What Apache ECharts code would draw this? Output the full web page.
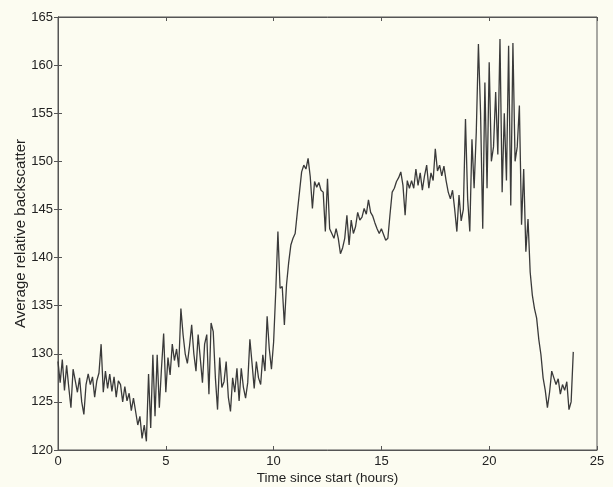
<!DOCTYPE html>
<html>
<head>
<meta charset="utf-8">
<script src="https://cdn.jsdelivr.net/npm/echarts@6/dist/echarts.min.js"></script>
<style>
  html, body { margin: 0; padding: 0; background: #fcfcf1; }
  #chart { width: 613px; height: 487px; }
</style>
</head>
<body>
<div id="chart"></div>
<script>
// Sampling step of the record, in hours
const stepHours = 0.1;

// Average relative backscatter, one value per 0.1 h (rows = 1 hour)
const backscatter = [
  129.2, 127.0, 129.4, 126.2, 128.8, 126.5, 124.4, 128.4, 127.2, 126.0,
  127.5, 125.0, 123.7, 126.8, 127.9, 126.8, 127.6, 125.5, 127.2, 128.0,
  131.0, 126.0, 128.2, 126.4, 127.9, 126.1, 127.6, 125.5, 127.2, 126.8,
  125.0, 126.6, 125.1, 125.9, 124.1, 125.4, 124.0, 122.6, 123.5, 121.2,
  122.6, 120.9, 127.9, 122.3, 129.9, 123.5, 129.9, 124.4, 128.5, 132.1,
  126.0, 129.6, 127.8, 131.0, 129.3, 130.5, 128.6, 134.7, 132.0, 130.0,
  129.0, 130.8, 133.0, 130.0, 128.2, 132.0, 129.5, 127.0, 131.0, 132.0,
  125.8, 133.2, 132.3, 127.5, 124.2, 129.6, 126.5, 127.1, 129.2, 125.5,
  124.0, 127.5, 126.0, 128.5, 125.1, 128.5, 126.5, 125.4, 127.0, 131.5,
  129.0, 126.4, 129.2, 127.5, 126.8, 129.9, 128.2, 133.9, 130.5, 128.4,
  131.2, 136.5, 142.7, 136.8, 137.0, 133.0, 137.2, 139.5, 141.3, 142.0,
  142.5, 144.7, 146.8, 148.9, 149.6, 149.2, 150.3, 148.4, 145.1, 147.9,
  147.3, 147.8, 147.0, 146.8, 142.7, 148.2, 143.0, 142.5, 142.0, 143.0,
  142.0, 140.4, 141.0, 142.0, 144.4, 141.3, 143.9, 142.5, 143.2, 144.7,
  143.9, 144.2, 145.1, 144.5, 146.0, 144.7, 144.3, 143.6, 143.0, 142.5,
  143.0, 142.4, 141.8, 142.0, 144.5, 146.8, 147.2, 147.9, 148.3, 148.9,
  147.5, 144.4, 148.0, 147.2, 148.0, 147.2, 149.2, 147.5, 148.8, 147.0,
  148.5, 149.6, 147.2, 148.8, 148.0, 151.3, 149.0, 149.6, 148.5, 149.5,
  148.0, 146.8, 146.1, 147.0, 145.0, 142.7, 146.5, 143.8, 145.0, 154.4,
  146.1, 142.7, 152.3, 147.2, 153.0, 162.2, 155.0, 143.0, 158.2, 147.2,
  160.3, 150.0, 151.5, 157.2, 150.7, 162.7, 146.8, 155.0, 148.0, 162.0,
  145.4, 162.3, 150.0, 151.5, 155.8, 143.4, 149.2, 140.6, 144.0, 138.5,
  136.1, 134.7, 133.7, 131.5, 129.9, 127.5, 126.2, 124.4, 126.0, 128.2,
  127.5, 126.8, 127.4, 125.8, 126.8, 126.2, 127.1, 124.2, 125.0, 130.2
];

// Axis ranges and tick spacing
const xRange = [0, 25];
const xTickStep = 5;
const yRange = [120, 165];
const yTickStep = 5;

const points = backscatter.map((v, i) => [+(i * stepHours).toFixed(2), v]);

const labelFont = { fontFamily: 'Liberation Sans, Arial, sans-serif', fontSize: 13, color: '#222' };
const frame = { show: true, lineStyle: { color: '#555', width: 1 } };
const innerTicks = { show: true, inside: true, length: 4, lineStyle: { color: '#555', width: 1 } };

const chart = echarts.init(document.getElementById('chart'), null, { renderer: 'canvas' });
chart.setOption({
  backgroundColor: '#fcfcf1',
  animation: false,
  grid: {
    left: 58, right: 16, top: 17, bottom: 37,
    outerBoundsMode: 'none',
    show: true, borderColor: '#555', borderWidth: 1, backgroundColor: 'transparent'
  },
  xAxis: [
    {
      type: 'value', min: xRange[0], max: xRange[1], interval: xTickStep,
      position: 'bottom',
      name: 'Time since start (hours)', nameLocation: 'middle', nameGap: 21,
      nameMoveOverlap: false,
      nameTextStyle: { ...labelFont, fontSize: 13.5 },
      axisLine: frame, axisTick: innerTicks,
      axisLabel: { ...labelFont, margin: 5 },
      splitLine: { show: false }
    },
    {
      type: 'value', min: xRange[0], max: xRange[1], interval: xTickStep,
      position: 'top',
      axisLine: frame, axisTick: innerTicks,
      axisLabel: { show: false }, splitLine: { show: false }
    }
  ],
  yAxis: [
    {
      type: 'value', min: yRange[0], max: yRange[1], interval: yTickStep,
      position: 'left',
      name: 'Average relative backscatter', nameLocation: 'middle', nameGap: 30,
      nameMoveOverlap: false,
      nameTextStyle: { ...labelFont, fontSize: 15 },
      axisLine: frame, axisTick: innerTicks,
      axisLabel: { ...labelFont, margin: 5 },
      splitLine: { show: false }
    },
    {
      type: 'value', min: yRange[0], max: yRange[1], interval: yTickStep,
      position: 'right',
      axisLine: frame, axisTick: innerTicks,
      axisLabel: { show: false }, splitLine: { show: false }
    }
  ],
  series: [{
    type: 'line',
    data: points,
    xAxisIndex: 0, yAxisIndex: 0,
    showSymbol: false,
    lineStyle: { color: '#3a3a3a', width: 1.3 },
    silent: true
  }]
});
</script>
</body>
</html>
